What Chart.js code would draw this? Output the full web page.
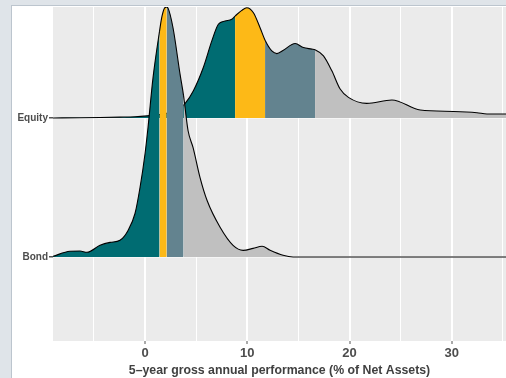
<!DOCTYPE html>
<html>
<head>
<meta charset="utf-8">
<script src="https://cdn.jsdelivr.net/npm/chart.js@4.4.1/dist/chart.umd.min.js"></script>
<style>
  body { margin: 0; background: #dfe4e9; overflow: hidden; }
  #frame { position: absolute; left: 11px; top: 5px; right: 0; bottom: 0; background: #fff;
           border-left: 1px solid #bcc5ce; border-top: 1px solid #bcc5ce; }
  #myRidgeChart { position: absolute; left: 0; top: 0; }
</style>
</head>
<body>
<div id="frame"></div>
<canvas id="myRidgeChart" width="506" height="378"></canvas>
<script>
// ridges, bottom to top
var ridgeNames = ['Bond', 'Equity'];

// density curves (x in %, height in ridge units)
var equityX = [-9.0, -6.36, -4.40, -2.45, -0.98, 0.20, 1.47, 2.64, 3.42, 3.91, 4.73, 5.70, 6.53, 7.17, 7.83, 8.48,
	8.81, 9.46, 9.95, 10.60, 11.25, 11.74, 12.40, 12.89, 13.53, 14.68, 15.49, 16.31, 16.63,
	17.45, 18.27, 19.08, 19.89, 21.69, 24.14, 26.91, 30.17, 32.46, 33.44, 35.32];
var equityDensity = [0, 0.001, 0.003, 0.006, 0.009, 0.015, 0.025, 0.045, 0.070, 0.103, 0.196, 0.363, 0.554, 0.674, 0.697, 0.710,
	0.733, 0.774, 0.793, 0.757, 0.649, 0.559, 0.482, 0.463, 0.487, 0.535, 0.506, 0.495, 0.490,
	0.447, 0.339, 0.208, 0.148, 0.105, 0.129, 0.057, 0.047, 0.038, 0.029, 0.029];
var equityQuantiles = [8.81, 11.74, 16.63];

var bondX = [-9.0, -7.34, -6.36, -5.68, -4.40, -3.42, -2.45, -1.66, -0.98, -0.49, 0.0, 0.29, 0.78, 1.42, 1.66, 1.96,
	2.12, 2.25, 2.74, 3.42, 3.77, 4.21, 4.70, 5.38, 6.07, 7.34, 8.61, 9.59, 10.57, 11.45, 12.23, 13.50, 14.48, 35.32];
var bondDensity = [0.005, 0.041, 0.043, 0.034, 0.084, 0.105, 0.120, 0.191, 0.313, 0.500, 0.743, 0.930, 1.288, 1.625, 1.732, 1.794,
	1.797, 1.790, 1.647, 1.317, 1.159, 0.908, 0.786, 0.571, 0.406, 0.214, 0.084, 0.048, 0.062, 0.077, 0.048, 0.012, 0, 0];
var bondQuantiles = [1.42, 2.12, 3.77];

var quantileColors = ['#006c72', '#fdb917', '#63838f', '#c0c0c0'];
var xTickValues = [-5, 0, 5, 10, 15, 20, 25, 30, 35];

function buildPoints(xs, hs, base) {
	var pts = [];
	for (var i = 0; i < xs.length; i++) {
		pts.push({ x: xs[i], y: base + hs[i] });
	}
	return pts;
}

function quantileColor(q) {
	return function (ctx) {
		var mid = (ctx.p0.parsed.x + ctx.p1.parsed.x) / 2;
		var k = 0;
		while (k < q.length && mid > q[k]) k++;
		return quantileColors[k];
	};
}

function ridge(label, xs, hs, base, q, order) {
	return {
		label: label,
		data: buildPoints(xs, hs, base),
		order: order,
		borderColor: '#000',
		borderWidth: 1.1,
		backgroundColor: quantileColors[0],
		fill: { value: base },
		pointRadius: 0,
		cubicInterpolationMode: 'monotone',
		segment: { backgroundColor: quantileColor(q) }
	};
}

// panel background
const panelBg = {
	id: 'panelBg',
	beforeDraw: function (chart) {
		var a = chart.chartArea, c = chart.ctx;
		c.save();
		c.fillStyle = '#ebebeb';
		c.fillRect(a.left, a.top, a.right - a.left, a.bottom - a.top);
		c.restore();
	}
};

const cconfig = {
	type: 'line',
	data: {
		datasets: [
			// lower ridge is drawn over the upper one
			ridge('Bond', bondX, bondDensity, 1, bondQuantiles, 0),
			ridge('Equity', equityX, equityDensity, 2, equityQuantiles, 1)
		]
	},
	options: {
		responsive: false,
		animation: false,
		layout: { padding: { left: 0, top: 6, right: 0, bottom: 0 } },
		plugins: {
			legend: { display: false },
			tooltip: { enabled: false }
		},
		scales: {
			x: {
				type: 'linear',
				min: -9.0,
				max: 35.3,
				afterBuildTicks: function (s) {
					s.ticks = xTickValues.map(function (v) { return { value: v }; });
				},
				afterFit: function (s) { s.height = 37; },
				border: { display: false },
				grid: {
					color: '#ffffff',
					lineWidth: function (ctx) { return ctx.tick && ctx.tick.value % 10 === 0 ? 2 : 1; },
					tickColor: function (ctx) { return ctx.tick && ctx.tick.value % 10 === 0 ? '#555' : 'rgba(0,0,0,0)'; },
					tickWidth: 1,
					tickLength: 3
				},
				ticks: {
					autoSkip: false,
					maxRotation: 0,
					padding: 2,
					color: '#4d4d4d',
					font: { family: 'Liberation Sans', weight: 'bold', size: 13 },
					callback: function (v) { return v % 10 === 0 ? String(v) : ''; }
				},
				title: {
					display: true,
					text: '5\u2013year gross annual performance (% of Net Assets)',
					color: '#404040',
					padding: 0,
					font: { family: 'Liberation Sans', weight: 'bold', size: 12.3 }
				}
			},
			y: {
				type: 'linear',
				min: 0.396,
				max: 2.798,
				afterBuildTicks: function (s) {
					s.ticks = ridgeNames.map(function (n, i) { return { value: i + 1 }; });
				},
				afterFit: function (s) { s.width = 53; },
				border: { display: false },
				grid: {
					color: '#ffffff',
					lineWidth: 1.5,
					tickColor: '#555',
					tickLength: 4
				},
				ticks: {
					padding: 1,
					color: '#4d4d4d',
					font: { family: 'Liberation Sans', weight: 'bold', size: 10 },
					callback: function (v) { return ridgeNames[Math.round(v) - 1]; }
				}
			}
		}
	},
	plugins: [panelBg]
};

const ridgeChart = new Chart(
	document.getElementById('myRidgeChart').getContext('2d'),
	cconfig
);
</script>
</body>
</html>
